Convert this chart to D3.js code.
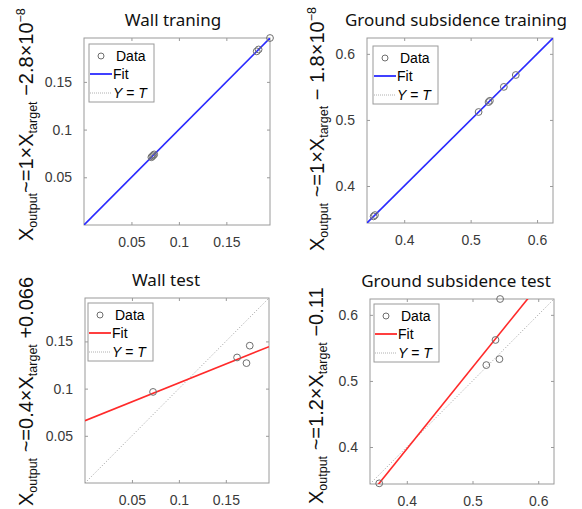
<!DOCTYPE html>
<html>
<head>
<meta charset="utf-8">
<script src="https://cdn.jsdelivr.net/npm/d3@7"></script>
<style>
  body { margin: 0; background: #fff; }
  svg { display: block; }
</style>
</head>
<body>
<svg id="chart" width="582" height="509"></svg>
<script>
// ---- data ----
const wallTrainTarget = [0.071, 0.072, 0.073, 0.074, 0.182, 0.184, 0.196];
const wallTrainOutput = [0.071, 0.072, 0.073, 0.074, 0.182, 0.184, 0.196];
const wallTrainFit    = [1, -2.8e-8];

const groundTrainTarget = [0.354, 0.356, 0.512, 0.527, 0.529, 0.550, 0.568];
const groundTrainOutput = [0.354, 0.356, 0.512, 0.527, 0.529, 0.550, 0.568];
const groundTrainFit    = [1, -1.8e-8];

const wallTestTarget = [0.0725, 0.162, 0.172, 0.1755];
const wallTestOutput = [0.0965, 0.133, 0.127, 0.1455];
const wallTestFit    = [0.4, 0.066];

const groundTestTarget = [0.358, 0.521, 0.535, 0.541, 0.542];
const groundTestOutput = [0.345, 0.524, 0.562, 0.533, 0.624];
const groundTestFit    = [1.235, -0.097];

const wallDomain   = [0, 0.196];
const groundDomain = [0.344, 0.624];
const wallTicks    = [0.05, 0.1, 0.15];
const groundTicks  = [0.4, 0.5, 0.6];

const titles = ["Wall traning", "Ground subsidence training", "Wall test", "Ground subsidence test"];
const legendLabels = ["Data", "Fit"];

// y labels: [main, sub, main, sub, main, sup]
const yLabels = [
    ["X", "output", "~=1\u00d7X", "target", " \u22122.8\u00d710", "\u22128"],
    ["X", "output", " ~=1\u00d7X", "target", " \u2212 1.8\u00d710", "\u22128"],
    ["X", "output", " ~=0.4\u00d7X", "target", " +0.066", ""],
    ["X", "output", " ~=1.2\u00d7X", "target", " \u22120.11", ""]
];

const svg = d3.select("#chart");

function drawPanel(cfg) {
    const x = d3.scaleLinear().domain(cfg.domain).range([cfg.left, cfg.left + cfg.w]);
    const y = d3.scaleLinear().domain(cfg.domain).range([cfg.top + cfg.h, cfg.top]);
    const g = svg.append("g");

    const clipId = "clip" + cfg.id;
    svg.append("clipPath").attr("id", clipId)
        .append("rect")
        .attr("x", cfg.left).attr("y", cfg.top)
        .attr("width", cfg.w).attr("height", cfg.h);

    // axes (ticks inside, mirrored)
    const tickStyle = sel => {
        sel.select(".domain").remove();
        sel.selectAll(".tick line").attr("stroke", "#9a9a9a");
        sel.selectAll(".tick text")
            .attr("fill", "#3a3a3a")
            .style("font-family", "'Liberation Sans', Arial, sans-serif")
            .style("font-size", "14px");
    };
    g.append("g").attr("transform", `translate(0,${cfg.top + cfg.h})`)
        .call(d3.axisBottom(x).tickValues(cfg.ticks).tickSize(-3).tickPadding(12).tickFormat(d => d))
        .call(tickStyle);
    g.append("g").attr("transform", `translate(${cfg.left},0)`)
        .call(d3.axisLeft(y).tickValues(cfg.ticks).tickSize(-3).tickPadding(12).tickFormat(d => d))
        .call(tickStyle);
    g.append("g").attr("transform", `translate(0,${cfg.top})`)
        .call(d3.axisTop(x).tickValues(cfg.ticks).tickSize(-3).tickFormat(""))
        .call(tickStyle);
    g.append("g").attr("transform", `translate(${cfg.left + cfg.w},0)`)
        .call(d3.axisRight(y).tickValues(cfg.ticks).tickSize(-3).tickFormat(""))
        .call(tickStyle);

    g.append("rect")
        .attr("x", cfg.left).attr("y", cfg.top)
        .attr("width", cfg.w).attr("height", cfg.h)
        .attr("fill", "none").attr("stroke", "#9a9a9a").attr("stroke-width", 1);

    const plot = g.append("g").attr("clip-path", `url(#${clipId})`);

    // Y = T
    plot.append("line")
        .attr("x1", x(cfg.domain[0])).attr("y1", y(cfg.domain[0]))
        .attr("x2", x(cfg.domain[1])).attr("y2", y(cfg.domain[1]))
        .attr("stroke", "#9c9c9c").attr("stroke-width", 1)
        .attr("stroke-dasharray", "1,2");

    // fit
    const f = t => cfg.fit[0] * t + cfg.fit[1];
    plot.append("line")
        .attr("x1", x(cfg.domain[0])).attr("y1", y(f(cfg.domain[0])))
        .attr("x2", x(cfg.domain[1])).attr("y2", y(f(cfg.domain[1])))
        .attr("stroke", cfg.color).attr("stroke-width", 1.6);

    // data
    g.selectAll(null)
        .data(cfg.target.map((t, i) => [t, cfg.output[i]]))
        .enter().append("circle")
        .attr("cx", d => x(d[0])).attr("cy", d => y(d[1]))
        .attr("r", 3.4)
        .attr("fill", "none").attr("stroke", "#6e6e6e").attr("stroke-width", 1);

    // title
    g.append("text")
        .attr("x", cfg.titleX).attr("y", cfg.top - 12)
        .attr("text-anchor", "middle")
        .style("font-family", "'Noto Sans', 'Open Sans', sans-serif")
        .style("font-size", "17px")
        .attr("fill", "#111")
        .text(cfg.title);

    // legend
    const lx = cfg.left + cfg.legend[0], ly = cfg.top + cfg.legend[1];
    const lg = g.append("g").attr("transform", `translate(${lx},${ly})`)
        .style("font-family", "'Liberation Sans', Arial, sans-serif")
        .style("font-size", "14px");
    lg.append("rect").attr("width", 65).attr("height", 58)
        .attr("fill", "#fff").attr("stroke", "#9a9a9a");
    lg.append("circle").attr("cx", 12).attr("cy", 12).attr("r", 3)
        .attr("fill", "none").attr("stroke", "#6e6e6e");
    lg.append("line").attr("x1", 1).attr("x2", 23).attr("y1", 30).attr("y2", 30)
        .attr("stroke", cfg.color).attr("stroke-width", 1.8);
    lg.append("line").attr("x1", 1).attr("x2", 23).attr("y1", 49).attr("y2", 49)
        .attr("stroke", "#b0b0b0").attr("stroke-dasharray", "1,1");
    lg.append("text").attr("x", 27).attr("y", 17).text(legendLabels[0]);
    lg.append("text").attr("x", 24).attr("y", 35).text(legendLabels[1]);
    const yt = lg.append("text").attr("x", 24).attr("y", 54);
    yt.append("tspan").style("font-style", "italic").text("Y");
    yt.append("tspan").text(" = ");
    yt.append("tspan").style("font-style", "italic").text("T");

    // y label, starting from its bottom end
    const lab = cfg.ylabel;
    const yl = g.append("text")
        .attr("transform", `translate(${cfg.labelX},${cfg.labelY}) rotate(-90)`)
        .attr("text-anchor", "start")
        .style("font-family", "'Liberation Sans', Arial, sans-serif")
        .style("font-size", "20px")
        .attr("fill", "#111");
    yl.append("tspan").text(lab[0]);
    yl.append("tspan").style("font-size", "12.5px").attr("dy", 4).text(lab[1]);
    yl.append("tspan").attr("dy", -4).text(lab[2]);
    yl.append("tspan").style("font-size", "12.5px").attr("dy", 4).text(lab[3]);
    yl.append("tspan").attr("dy", -4).text(lab[4]);
    if (lab[5]) yl.append("tspan").style("font-size", "12.5px").attr("dy", -8).text(lab[5]);
}

const panels = [
    { id: 1, left: 84,  top: 38,  w: 186, h: 187, domain: wallDomain,   ticks: wallTicks,
      target: wallTrainTarget, output: wallTrainOutput, fit: wallTrainFit, color: "#2b2bff",
      title: titles[0], titleX: 173, legend: [5, 6], ylabel: yLabels[0], labelX: 33, labelY: 241 },
    { id: 2, left: 367, top: 38,  w: 186, h: 185, domain: groundDomain, ticks: groundTicks,
      target: groundTrainTarget, output: groundTrainOutput, fit: groundTrainFit, color: "#2b2bff",
      title: titles[1], titleX: 456, legend: [6, 8], ylabel: yLabels[1], labelX: 324, labelY: 251 },
    { id: 3, left: 85,  top: 298, w: 184, h: 185, domain: wallDomain,   ticks: wallTicks,
      target: wallTestTarget, output: wallTestOutput, fit: wallTestFit, color: "#ff2a2a",
      title: titles[2], titleX: 166, legend: [3, 5], ylabel: yLabels[2], labelX: 33, labelY: 506 },
    { id: 4, left: 370, top: 299, w: 184, h: 185, domain: groundDomain, ticks: groundTicks,
      target: groundTestTarget, output: groundTestOutput, fit: groundTestFit, color: "#ff2a2a",
      title: titles[3], titleX: 456, legend: [4, 5], ylabel: yLabels[3], labelX: 323, labelY: 504 }
];

panels.forEach(drawPanel);
</script>
</body>
</html>
